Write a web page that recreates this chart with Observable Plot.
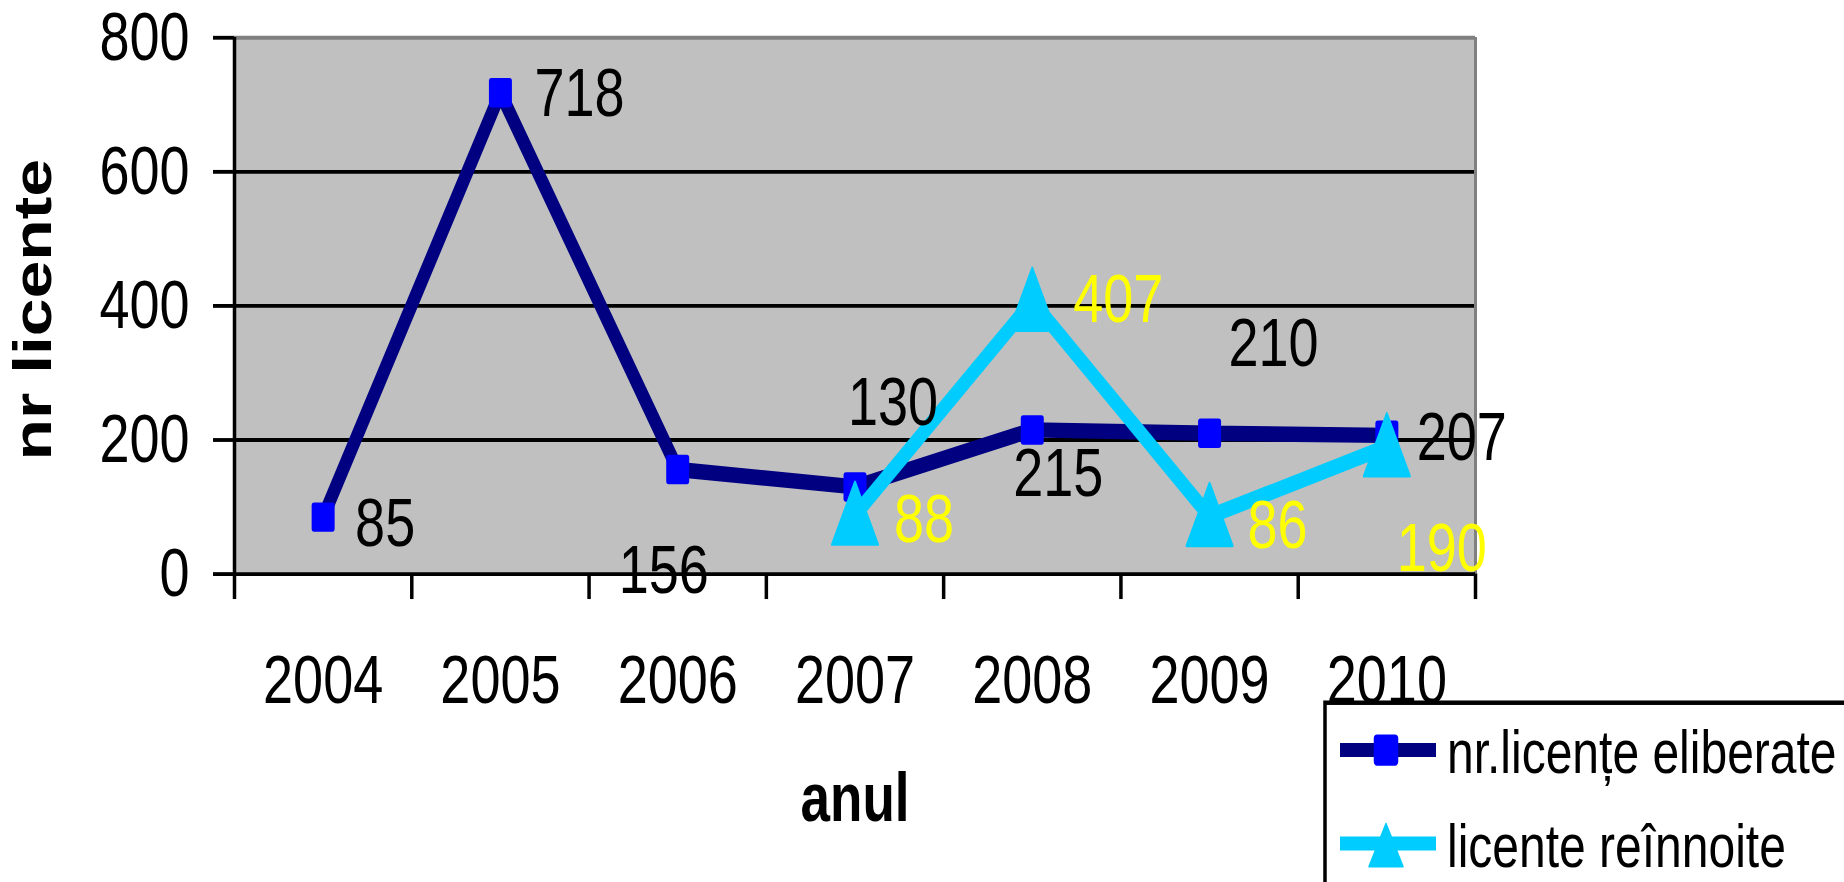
<!DOCTYPE html>
<html>
<head>
<meta charset="utf-8">
<script src="https://cdn.jsdelivr.net/npm/d3@7"></script>
<script src="https://cdn.jsdelivr.net/npm/@observablehq/plot@0.6"></script>
<style>
  html, body { margin: 0; padding: 0; background: #fff; overflow: hidden; width: 1844px; height: 882px; }
  #outer { position: relative; width: 1844px; height: 882px; overflow: hidden; }
  #wrap { position: absolute; left: 0; top: 0; width: 1844px; height: 689px; transform: scaleY(1.28); transform-origin: 0 0;
          font-family: "Liberation Sans", Arial, sans-serif; }
</style>
</head>
<body>
<div id="outer"><div id="wrap"></div></div>
<script>
// ---- data ----
const years = ["2004", "2005", "2006", "2007", "2008", "2009", "2010"];
const eliberate = [85, 718, 156, 130, 215, 210, 207];
const reinnoiteYears = ["2007", "2008", "2009", "2010"];
const reinnoite = [88, 407, 86, 190];
const yTicks = [0, 200, 400, 600, 800];
const seriesNames = ["nr.licențe eliberate", "licente reînnoite"];
const xTitle = "anul";
const yTitle = "nr licente";

// ---- label placement (styling, not data) ----
const eliberateLabelOffsets = [[62, 5], [79, 1], [-14, 79], [38, -66], [26, 34], [64, -70], [75, 2]];
const reinnoiteLabelOffsets = [[69, 4], [86, -1], [68, 7], [55, 80]];

const colors = {dark: "#000080", square: "#0000ff", light: "#00ccff", yellow: "#ffff00", plotBg: "#c0c0c0", border: "#808080"};

const rowsE = years.map((year, i) => ({year, pos: i + 0.5, value: eliberate[i]}));
const rowsR = reinnoiteYears.map((year, i) => ({year, pos: years.indexOf(year) + 0.5, value: reinnoite[i]}));

function roundedSquare(h, r) {
  return {draw(ctx) {
    ctx.moveTo(-h + r, -h);
    ctx.arcTo(h, -h, h, h, r);
    ctx.arcTo(h, h, -h, h, r);
    ctx.arcTo(-h, h, -h, -h, r);
    ctx.arcTo(-h, -h, h, -h, r);
    ctx.closePath();
  }};
}
function triangle(top, bottom, half) {
  return {draw(ctx) {
    ctx.moveTo(0, -top);
    ctx.lineTo(half, bottom);
    ctx.lineTo(-half, bottom);
    ctx.closePath();
  }};
}
const squareSym = roundedSquare(11.5, 2.5);
const triSym = triangle(26, 23, 23);

const labelMarks = [
  ...rowsE.map((d, i) => Plot.text([d], {x: "pos", y: "value", text: r => String(r.value),
      dx: eliberateLabelOffsets[i][0], dy: eliberateLabelOffsets[i][1], fill: "black", fontSize: 54})),
  ...rowsR.map((d, i) => Plot.text([d], {x: "pos", y: "value", text: r => String(r.value),
      dx: reinnoiteLabelOffsets[i][0], dy: reinnoiteLabelOffsets[i][1], fill: colors.yellow, fontSize: 54}))
];

const chart = Plot.plot({
  width: 1844,
  height: 689,
  marginLeft: 234,
  marginRight: 369,
  marginTop: 29,
  marginBottom: 241,
  style: {fontFamily: '"Liberation Sans", Arial, sans-serif', fontSize: "54px", color: "black", background: "transparent", overflow: "visible"},
  x: {domain: [0, years.length]},
  y: {domain: [0, 800]},
  marks: [
    Plot.frame({fill: colors.plotBg, stroke: null}),
    Plot.ruleY(yTicks.filter(t => t > 0 && t < 800), {stroke: "black", strokeWidth: 3}),
    Plot.ruleY([800], {stroke: colors.border, strokeWidth: 3}),
    Plot.ruleX([years.length], {stroke: colors.border, strokeWidth: 3}),
    Plot.ruleX([0], {stroke: "black", strokeWidth: 3.5}),
    Plot.ruleY([0], {stroke: "black", strokeWidth: 3}),
    Plot.axisY({ticks: yTicks, tickSize: 21, tickPadding: 24, strokeWidth: 3, label: null, fontSize: 54}),
    Plot.axisX({ticks: d3.range(years.length + 1), tickSize: 20, tickFormat: () => "", strokeWidth: 3.5, label: null}),
    Plot.axisX({ticks: years.map((_, i) => i + 0.5), tickSize: 0, tickPadding: 62, tickFormat: d => years[Math.floor(d)], label: null, fontSize: 54}),
    Plot.text([xTitle], {frameAnchor: "bottom", dy: 155, lineAnchor: "top", textAnchor: "middle", fontWeight: "bold", fontSize: 53}),
    Plot.text([yTitle], {frameAnchor: "left", dx: -184, dy: 3, rotate: -90, lineAnchor: "bottom", textAnchor: "middle", fontWeight: "bold", fontSize: 53}),
    Plot.line(rowsE, {x: "pos", y: "value", stroke: colors.dark, strokeWidth: 12, strokeLinejoin: "miter"}),
    Plot.dot(rowsE, {x: "pos", y: "value", symbol: squareSym, r: 11, fill: colors.square, stroke: null}),
    Plot.line(rowsR, {x: "pos", y: "value", stroke: colors.light, strokeWidth: 12, strokeLinejoin: "miter"}),
    Plot.dot(rowsR, {x: "pos", y: "value", symbol: triSym, r: 11, fill: colors.light, stroke: colors.light, strokeWidth: 2, strokeLinejoin: "round"}),
    ...labelMarks
  ]
});
document.getElementById("wrap").appendChild(chart);

// ---- legend ----
function symPath(sym) { const p = d3.path(); sym.draw(p, 0); return p.toString(); }
const legendItems = [
  {name: seriesNames[0], line: colors.dark, fill: colors.square, sym: roundedSquare(11.5, 2.5), cy: 586, base: 604},
  {name: seriesNames[1], line: colors.light, fill: colors.light, sym: triangle(15.5, 18, 17), cy: 659, base: 677}
];
const lg = d3.select("#wrap").append("svg")
  .attr("width", 1844).attr("height", 689)
  .style("position", "absolute").style("left", "0px").style("top", "0px");
lg.append("rect").attr("x", 1325).attr("y", 549).attr("width", 700).attr("height", 300)
  .attr("fill", "white").attr("stroke", "black").attr("stroke-width", 3.5);
const items = lg.selectAll("g.item").data(legendItems).join("g").attr("class", "item");
items.append("line").attr("x1", 1340).attr("x2", 1436).attr("y1", d => d.cy).attr("y2", d => d.cy)
  .attr("stroke", d => d.line).attr("stroke-width", 11);
items.append("path").attr("d", d => symPath(d.sym)).attr("transform", d => `translate(1386,${d.cy})`)
  .attr("fill", d => d.fill).attr("stroke", d => d.fill).attr("stroke-width", 1.5).attr("stroke-linejoin", "round");
items.append("text").attr("x", 1447).attr("y", d => d.base).text(d => d.name)
  .attr("font-family", '"Liberation Sans", Arial, sans-serif').attr("font-size", 48).attr("fill", "black");
</script>
</body>
</html>
